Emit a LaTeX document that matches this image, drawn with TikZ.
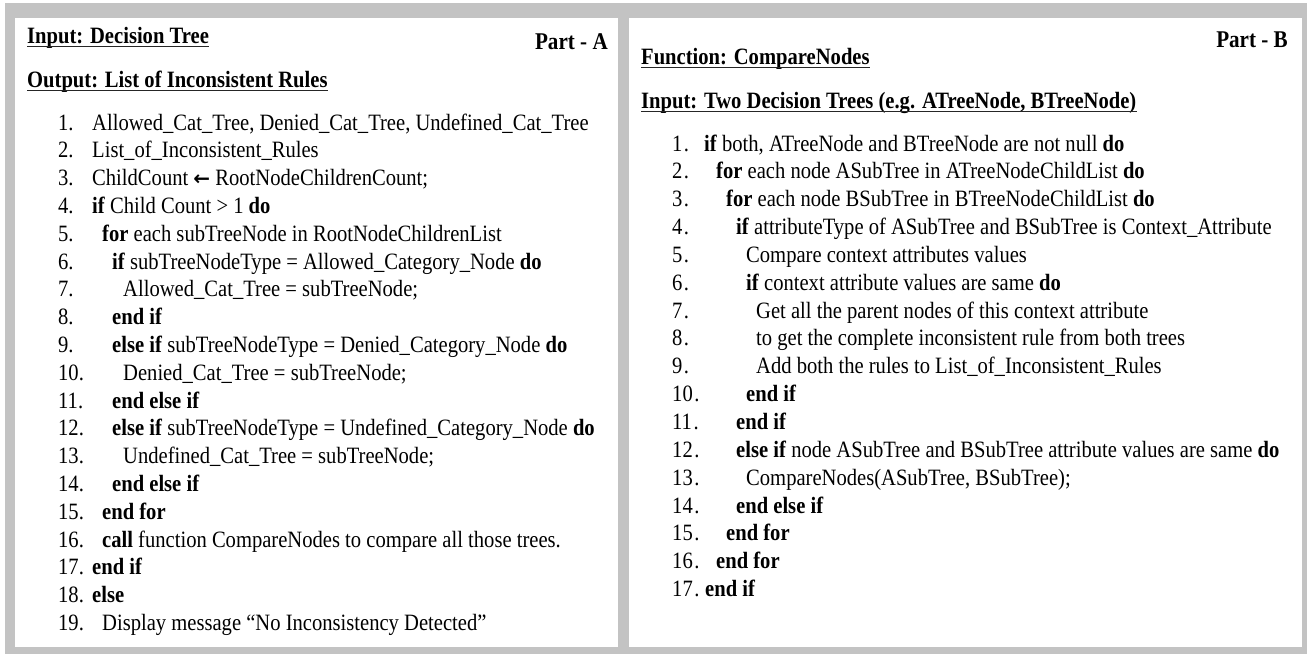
\documentclass[tikz,border=0pt]{standalone}
\usepackage{fontspec}
\setmainfont[FakeStretch=0.88]{Liberation Serif}
\newfontfamily\arrowfont{DejaVu Sans}
\definecolor{bggray}{RGB}{195,195,195}
\tikzset{
  txt/.style={anchor=base west, inner sep=0pt, font=\fontsize{23.4}{26}\selectfont},
  hd/.style={anchor=base west, inner sep=0pt, font=\fontsize{23.4}{26}\selectfont\bfseries},
  partlbl/.style={anchor=base east, inner sep=0pt, font=\fontsize{24}{26}\selectfont\bfseries},
  ulline/.style={line width=1.6pt, black!85},
  panel/.style={fill=white, draw=none}
}
\newcommand\Lrow[3]{\node[txt] (ln#1) at (58,{130+(#1-1)*27.8}) {#1.};
  \node[txt] (lt#1) at (#2,{130+(#1-1)*27.8}) {#3};}
\newcommand\Rrow[3]{\node[txt] (rn#1) at (672,{151+(#1-1)*27.85}) {#1\kern1.5pt.};
  \node[txt] (rt#1) at (#2,{151+(#1-1)*27.85}) {#3};}
\begin{document}
\begin{tikzpicture}[x=1pt,y=-1pt]
\useasboundingbox (0,0) rectangle (1307,654);
\fill[white] (0,0) rectangle (1307,654);
\fill[bggray] (5,3) rectangle (1307,654);
\fill[panel] (15,18) rectangle (618,647);
\fill[panel] (629,18) rectangle (1302,647);
% Part A
\node[hd] (ha1) at (27,43) {Input: Decision Tree};
\node[hd] (ha2) at (27,87) {Output: List of Inconsistent Rules};
\draw[ulline] ([yshift=-3.5pt]ha1.base west) -- ([yshift=-3.5pt]ha1.base east);
\draw[ulline] ([yshift=-3.5pt]ha2.base west) -- ([yshift=-3.5pt]ha2.base east);
\node[partlbl] (pa) at (608,49) {Part - A};
\Lrow{1}{92}{Allowed\_Cat\_Tree, Denied\_Cat\_Tree, Undefined\_Cat\_Tree}
\Lrow{2}{92}{List\_of\_Inconsistent\_Rules}
\Lrow{3}{92}{ChildCount {\arrowfont\bfseries\fontsize{20}{24}\selectfont ←} RootNodeChildrenCount;}
\Lrow{4}{92}{\textbf{if} Child Count > 1 \textbf{do}}
\Lrow{5}{102}{\textbf{for} each subTreeNode in RootNodeChildrenList}
\Lrow{6}{112}{\textbf{if} subTreeNodeType = Allowed\_Category\_Node \textbf{do}}
\Lrow{7}{123}{Allowed\_Cat\_Tree = subTreeNode;}
\Lrow{8}{112}{\textbf{end if}}
\Lrow{9}{112}{\textbf{else if} subTreeNodeType = Denied\_Category\_Node \textbf{do}}
\Lrow{10}{123}{Denied\_Cat\_Tree = subTreeNode;}
\Lrow{11}{112}{\textbf{end else if}}
\Lrow{12}{112}{\textbf{else if} subTreeNodeType = Undefined\_Category\_Node \textbf{do}}
\Lrow{13}{123}{Undefined\_Cat\_Tree = subTreeNode;}
\Lrow{14}{112}{\textbf{end else if}}
\Lrow{15}{102}{\textbf{end for}}
\Lrow{16}{102}{\textbf{call} function CompareNodes to compare all those trees.}
\Lrow{17}{92}{\textbf{end if}}
\Lrow{18}{92}{\textbf{else}}
\Lrow{19}{102}{Display message “No Inconsistency Detected”}
% Part B
\node[hd] (hb1) at (641,64) {Function: CompareNodes};
\node[hd] (hb2) at (641,108) {Input: Two Decision Trees (e.g. ATreeNode, BTreeNode)};
\draw[ulline] ([yshift=-3.5pt]hb1.base west) -- ([yshift=-3.5pt]hb1.base east);
\draw[ulline] ([yshift=-3.5pt]hb2.base west) -- ([yshift=-3.5pt]hb2.base east);
\node[partlbl] (pb) at (1288,47) {Part - B};
\Rrow{1}{704}{\textbf{if} both, ATreeNode and BTreeNode are not null \textbf{do}}
\Rrow{2}{716}{\textbf{for} each node ASubTree in ATreeNodeChildList \textbf{do}}
\Rrow{3}{726}{\textbf{for} each node BSubTree in BTreeNodeChildList \textbf{do}}
\Rrow{4}{736}{\textbf{if} attributeType of ASubTree and BSubTree is Context\_Attribute}
\Rrow{5}{746}{Compare context attributes values}
\Rrow{6}{746}{\textbf{if} context attribute values are same \textbf{do}}
\Rrow{7}{756}{Get all the parent nodes of this context attribute}
\Rrow{8}{756}{to get the complete inconsistent rule from both trees}
\Rrow{9}{756}{Add both the rules to List\_of\_Inconsistent\_Rules}
\Rrow{10}{746}{\textbf{end if}}
\Rrow{11}{736}{\textbf{end if}}
\Rrow{12}{736}{\textbf{else if} node ASubTree and BSubTree attribute values are same \textbf{do}}
\Rrow{13}{746}{CompareNodes(ASubTree, BSubTree);}
\Rrow{14}{736}{\textbf{end else if}}
\Rrow{15}{726}{\textbf{end for}}
\Rrow{16}{716}{\textbf{end for}}
\Rrow{17}{705}{\textbf{end if}}
\end{tikzpicture}
\end{document}
